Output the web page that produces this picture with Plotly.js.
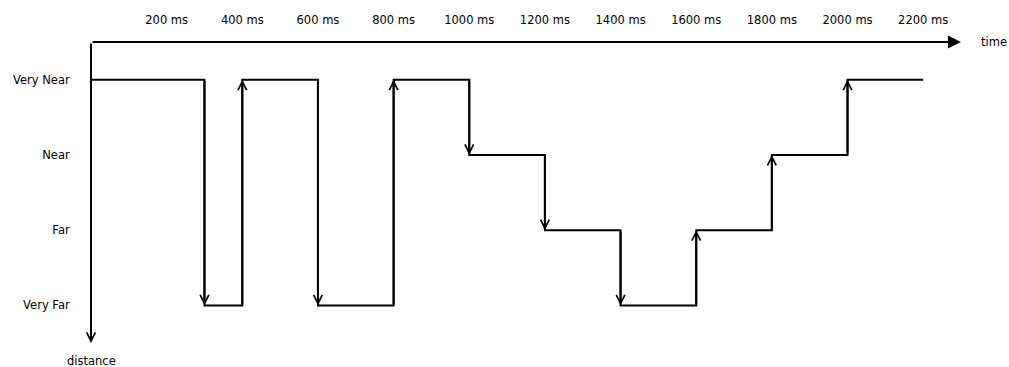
<!DOCTYPE html>
<html>
<head>
<meta charset="utf-8">
<script src="https://cdn.plot.ly/plotly-3.0.1.min.js"></script>
<style>html,body{margin:0;padding:0;background:#fff;}#chart{width:1009px;height:367px;}</style>
</head>
<body>
<div id="chart"></div>
<script>
// Data
const categories = ['Very Near', 'Near', 'Far', 'Very Far'];
const times = [0, 300, 400, 600, 800, 1000, 1200, 1400, 1600, 1800, 2000, 2200];
const levels = [0, 3, 0, 3, 0, 1, 2, 3, 2, 1, 0, 0];
const timeTicks = [200, 400, 600, 800, 1000, 1200, 1400, 1600, 1800, 2000, 2200];
const timeTickLabels = timeTicks.map(t => t + ' ms');

const FONT = {family: 'DejaVu Sans, sans-serif', size: 11.5, color: '#000'};
const xMax = 2300, yTop = -0.5, yBottom = 3.5;

const trace = {
  x: times, y: levels, type: 'scatter', mode: 'lines',
  line: {shape: 'hv', color: '#000', width: 2},
  hoverinfo: 'skip', showlegend: false
};

const annotations = [];
// transition arrows
for (let i = 1; i < times.length; i++) {
  if (levels[i] !== levels[i - 1]) {
    annotations.push({
      x: times[i], y: levels[i], xref: 'x', yref: 'y',
      ax: times[i], ay: levels[i - 1], axref: 'x', ayref: 'y',
      text: '', showarrow: true, arrowhead: 5, arrowsize: 0.85, arrowwidth: 2,
      arrowcolor: '#000', standoff: 0
    });
  }
}
// time axis arrow
annotations.push({
  x: xMax, y: yTop, xref: 'x', yref: 'y', ax: 0, ay: yTop, axref: 'x', ayref: 'y',
  text: '', showarrow: true, arrowhead: 2, arrowsize: 1.3, arrowwidth: 2, arrowcolor: '#000'
});
// distance axis arrow
annotations.push({
  x: 0, y: yBottom, xref: 'x', yref: 'y', ax: 0, ay: yTop, axref: 'x', ayref: 'y',
  text: '', showarrow: true, arrowhead: 5, arrowsize: 0.85, arrowwidth: 2, arrowcolor: '#000'
});
annotations.push({
  x: 1, y: 1, xref: 'paper', yref: 'paper', xanchor: 'left', yanchor: 'middle',
  xshift: 18, text: 'time', showarrow: false, font: FONT
});
annotations.push({
  x: 0, y: 0, xref: 'paper', yref: 'paper', xanchor: 'center', yanchor: 'top',
  yshift: -9, text: 'distance', showarrow: false, font: FONT
});

const layout = {
  width: 1009, height: 367,
  margin: {l: 91, r: 48, t: 42, b: 24},
  paper_bgcolor: '#fff', plot_bgcolor: '#fff',
  font: FONT,
  showlegend: false,
  xaxis: {
    range: [0, xMax], side: 'top', showgrid: false, zeroline: false, showline: false,
    tickvals: timeTicks, ticktext: timeTickLabels,
    ticks: 'outside', ticklen: 12, tickcolor: 'rgba(0,0,0,0)', tickfont: FONT,
    fixedrange: true
  },
  yaxis: {
    range: [yBottom, yTop], showgrid: false, zeroline: false, showline: false,
    tickvals: [0, 1, 2, 3], ticktext: categories,
    ticks: 'outside', ticklen: 18, tickcolor: 'rgba(0,0,0,0)', tickfont: FONT,
    fixedrange: true
  },
  annotations: annotations
};

Plotly.newPlot('chart', [trace], layout, {displayModeBar: false, staticPlot: true});
</script>
</body>
</html>
